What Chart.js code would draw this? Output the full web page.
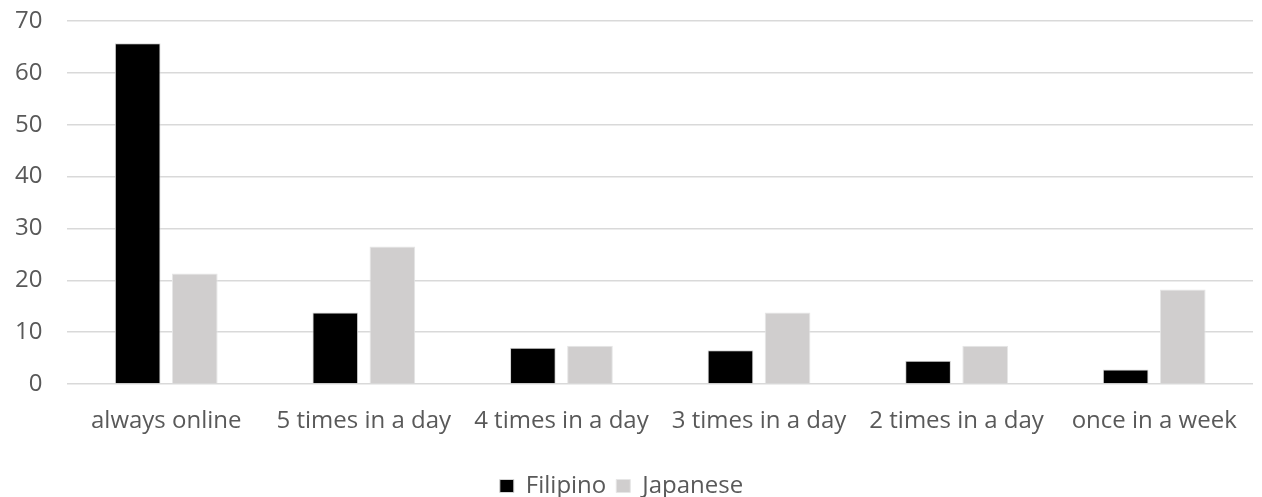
<!DOCTYPE html>
<html>
<head>
<meta charset="utf-8">
<script src="https://cdn.jsdelivr.net/npm/chart.js@4"></script>
<style>
  html, body { margin: 0; padding: 0; background: #fff; }
  #wrap { width: 1262px; height: 497px; }
</style>
</head>
<body>
<div id="wrap"><canvas id="onlineGraph" width="1262" height="497"></canvas></div>
<script>
const categories = ['always online', '5 times in a day', '4 times in a day', '3 times in a day', '2 times in a day', 'once in a week'];
const filipino = [65.7, 13.8, 7.0, 6.5, 4.5, 2.8];
const japanese = [21.3, 26.5, 7.4, 13.8, 7.4, 18.2];
const yTicks = [0, 10, 20, 30, 40, 50, 60, 70];

const onlineGraph = document.getElementById('onlineGraph');

new Chart(onlineGraph, {
    type: 'bar',
    data: {
        labels: categories,
        datasets: [
            {
                label: 'Filipino',
                data: filipino,
                backgroundColor: '#000000',
                borderColor: '#d4d4d4',
                borderWidth: 1,
                borderSkipped: 'bottom'
            },
            {
                label: 'Japanese',
                data: japanese,
                backgroundColor: '#d0cece',
                borderColor: '#e6e6e6',
                borderWidth: 1,
                borderSkipped: 'bottom'
            }
        ]
    },
    options: {
        responsive: false,
        devicePixelRatio: 1,
        animation: false,
        categoryPercentage: 0.578,
        barPercentage: 0.8,
        layout: {
            padding: { top: 0, right: 9, left: -10, bottom: -11 }
        },
        plugins: {
            legend: {
                position: 'bottom',
                labels: {
                    boxWidth: 14,
                    boxHeight: 13,
                    padding: 10,
                    color: '#595959',
                    font: { family: 'Open Sans', size: 24 }
                }
            },
            tooltip: { enabled: false }
        },
        scales: {
            x: {
                grid: { display: false },
                border: { display: false },
                afterFit: (axis) => {
                    axis.height = 80;
                },
                ticks: {
                    color: '#595959',
                    padding: 15,
                    maxRotation: 0,
                    autoSkip: false,
                    font: { family: 'Open Sans', size: 24 }
                }
            },
            y: {
                min: 0,
                max: 70,
                afterBuildTicks: (axis) => {
                    axis.ticks = yTicks.map(v => ({ value: v }));
                },
                afterFit: (axis) => {
                    // keep the 70 line near the top edge
                    axis.paddingTop = 21;
                    axis.paddingBottom = 10;
                },
                grid: { color: '#d9d9d9', lineWidth: 1.5, drawTicks: false },
                border: { display: false },
                ticks: {
                    color: '#595959',
                    padding: 25,
                    font: { family: 'Open Sans', size: 24 }
                }
            }
        }
    }
});
</script>
</body>
</html>
